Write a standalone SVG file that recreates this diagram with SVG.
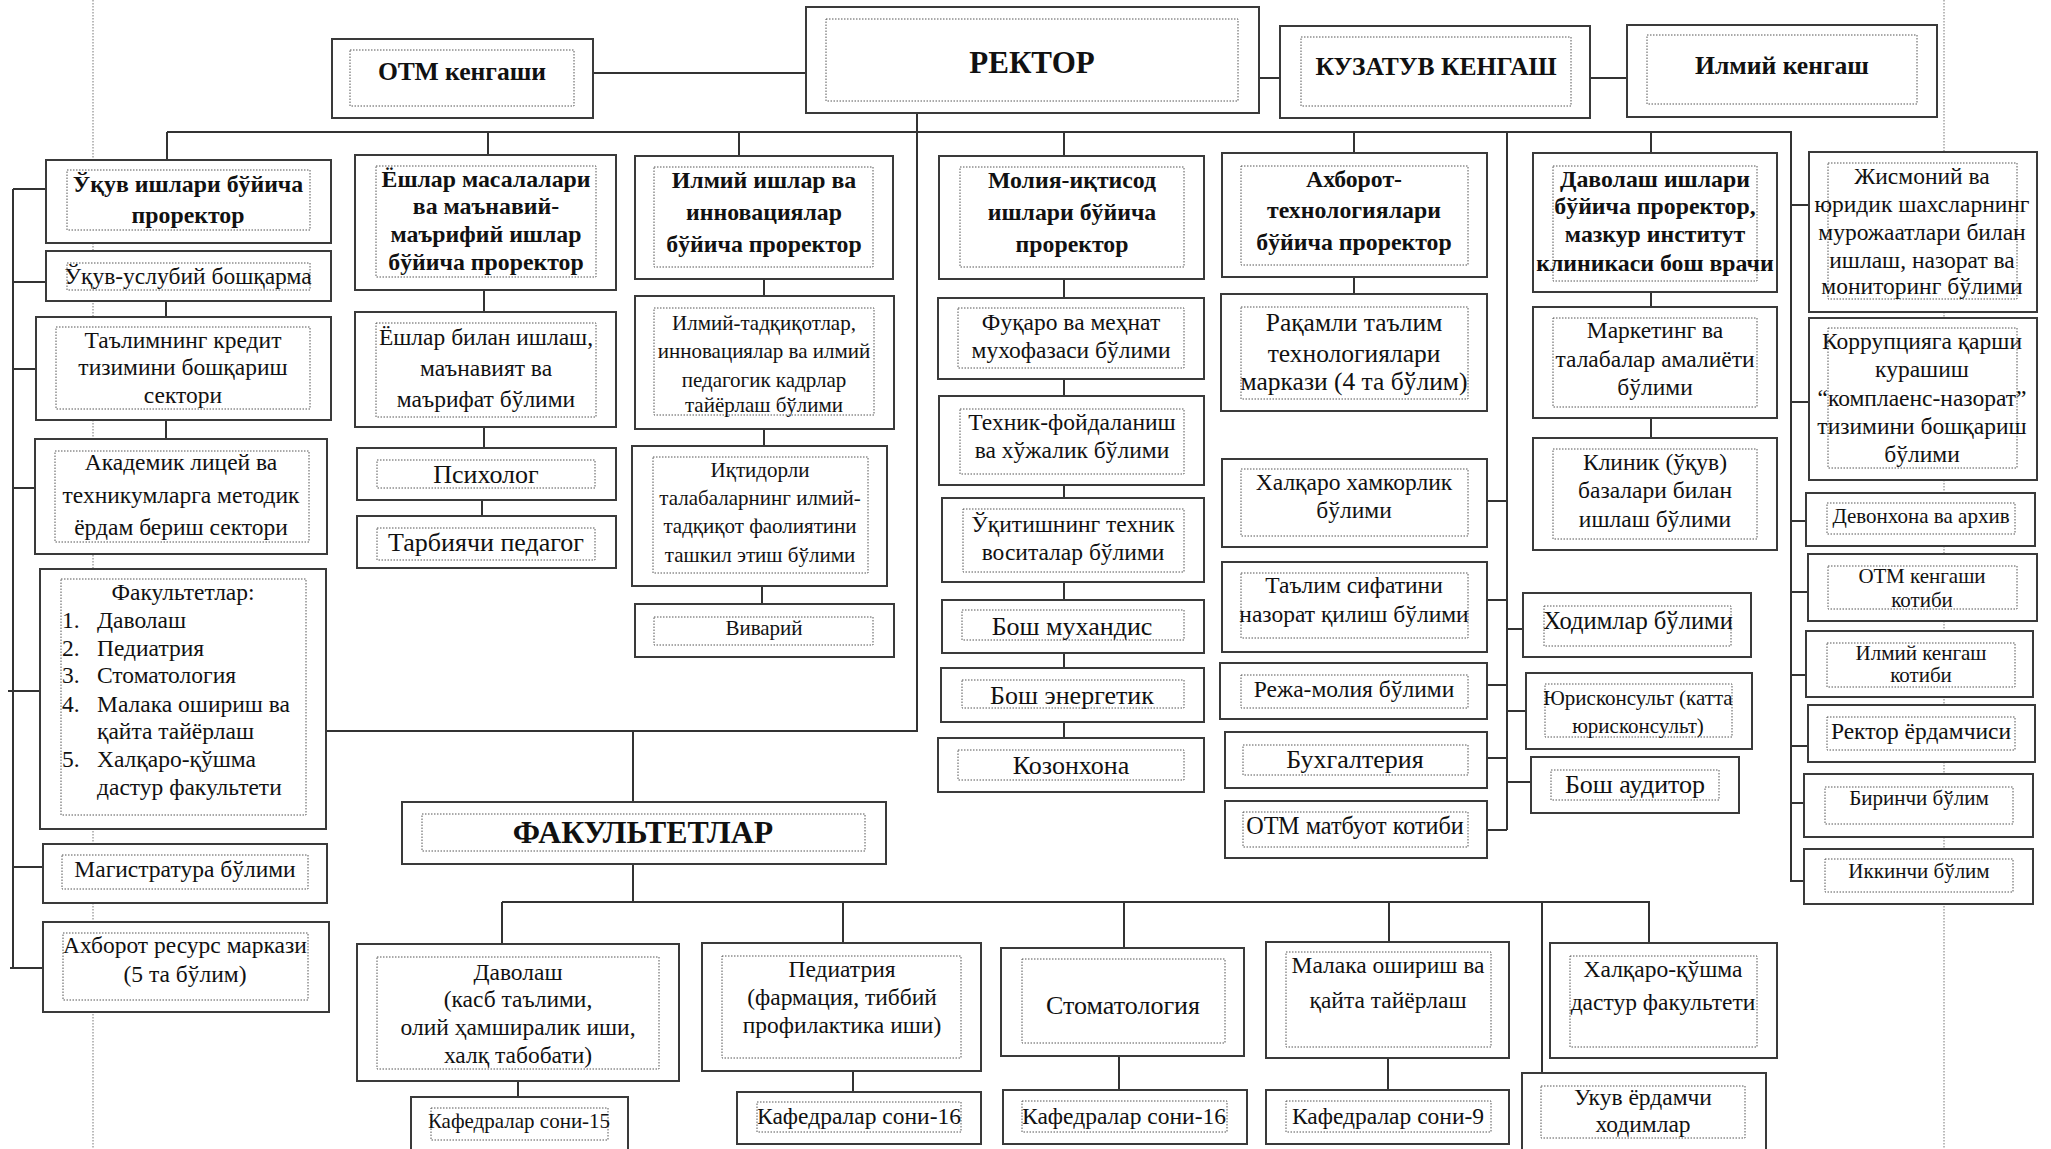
<svg xmlns="http://www.w3.org/2000/svg" width="2051" height="1149" viewBox="0 0 2051 1149">
<style>
.o{fill:#fff;stroke:#3a3a3a;stroke-width:2}
.i{fill:none;stroke:#555;stroke-width:1;stroke-dasharray:1.5 1.5}
.c{fill:none;stroke:#333;stroke-width:2}
.m{fill:none;stroke:#777;stroke-width:1;stroke-dasharray:1.5 1.5}
text{font-family:"Liberation Serif","Times New Roman",serif;fill:#111;text-anchor:middle;font-size:23.5px}
.b{font-weight:bold;font-size:23.8px}
.s{font-size:21px}
.L{font-size:26px}
.l{text-anchor:start}
</style>
<rect width="2051" height="1149" fill="#fff"/>
<g id="margins">
<path class="m" d="M93,0V1149M1944,0V1149"/>
</g>
<g id="connectors">
<path class="c" d="M593,73H806M1259,78H1280M1590,78H1627"/>
<path class="c" d="M167,132H1791V882M167,132V160M488,132V155M739,132V156M1064,132V156M1354,132V153M1651,132V153"/>
<path class="c" d="M917,113V731H326M633,731V802"/>
<path class="c" d="M1507,132V830M1487,501H1507M1487,600H1507M1487,685H1507M1487,758H1507M1487,830H1507M1507,629H1523M1507,711H1526M1507,782H1531"/>
<path class="c" d="M1791,205H1809M1791,402H1809M1791,521H1806M1791,592H1808M1791,675H1806M1791,746H1808M1791,803H1804M1791,881H1804"/>
<path class="c" d="M13,189V968M13,189H46M13,282H46M13,369H36M13,488H35M8,691H40M13,867H43M10,968H43"/>
<path class="c" d="M166,301V317M166,420V439M484,290V312M484,427V448M482,500V516M764,279V296M764,429V446M762,586V604"/>
<path class="c" d="M1064,279V298M1064,379V396M1064,485V498M1064,582V600M1064,653V668M1064,722V738M1354,277V294M1651,292V307M1651,418V438"/>
<path class="c" d="M633,864V902M502,902H1649V943M502,902V944M843,902V943M1124,902V948M1389,902V942M1542,902V1073"/>
<path class="c" d="M518,1081V1097M853,1071V1092M1119,1056V1090M1388,1058V1090"/>
</g>
<g id="otm-kengashi"><rect class="o" x="332" y="39" width="261" height="79"/><rect class="i" x="350" y="50" width="224" height="56"/><text class="b" x="462" y="80" style="font-size:25.6px">ОТМ кенгаши</text></g>
<g id="rektor"><rect class="o" x="806" y="7" width="453" height="106"/><rect class="i" x="826" y="19" width="412" height="82"/><text class="b" x="1032" y="73" style="font-size:31px">РЕКТОР</text></g>
<g id="kuzatuv"><rect class="o" x="1280" y="26" width="310" height="92"/><rect class="i" x="1301" y="37" width="270" height="69"/><text class="b" x="1436" y="75" style="font-size:25.6px">КУЗАТУВ КЕНГАШ</text></g>
<g id="ilmiy-kengash"><rect class="o" x="1627" y="25" width="310" height="92"/><rect class="i" x="1647" y="35" width="270" height="69"/><text class="b" x="1782" y="74" style="font-size:25.6px">Илмий кенгаш</text></g>

<g id="ukuv-prorektor"><rect class="o" x="46" y="160" width="285" height="83"/><rect class="i" x="67" y="170" width="243" height="60"/><text class="b"><tspan x="188" y="192">Ўқув ишлари бўйича</tspan><tspan x="188" y="223">проректор</tspan></text></g>
<g id="ukuv-uslubiy"><rect class="o" x="46" y="251" width="285" height="50"/><rect class="i" x="67" y="263" width="243" height="27"/><text x="188" y="284">Ўқув-услубий бошқарма</text></g>
<g id="talim-kredit"><rect class="o" x="36" y="317" width="295" height="103"/><rect class="i" x="56" y="327" width="254" height="82"/><text><tspan x="183" y="348">Таълимнинг кредит</tspan><tspan x="183" y="375">тизимини бошқариш</tspan><tspan x="183" y="403">сектори</tspan></text></g>
<g id="akademik"><rect class="o" x="35" y="439" width="292" height="115"/><rect class="i" x="55" y="451" width="254" height="91"/><text><tspan x="181" y="470">Академик лицей ва</tspan><tspan x="181" y="503">техникумларга методик</tspan><tspan x="181" y="535">ёрдам бериш сектори</tspan></text></g>
<g id="fakultetlar-list"><rect class="o" x="40" y="569" width="286" height="260"/><rect class="i" x="61" y="579" width="245" height="236"/><text x="183" y="600">Факультетлар:</text><text class="l"><tspan x="62" y="628">1.</tspan><tspan x="62" y="656">2.</tspan><tspan x="62" y="683">3.</tspan><tspan x="62" y="712">4.</tspan><tspan x="62" y="767">5.</tspan></text><text class="l"><tspan x="97" y="628">Даволаш</tspan><tspan x="97" y="656">Педиатрия</tspan><tspan x="97" y="683">Стоматология</tspan><tspan x="97" y="712">Малака ошириш ва</tspan><tspan x="97" y="739">қайта тайёрлаш</tspan><tspan x="97" y="767">Халқаро-қўшма</tspan><tspan x="97" y="795">дастур факультети</tspan></text></g>
<g id="magistratura"><rect class="o" x="43" y="844" width="284" height="59"/><rect class="i" x="62" y="855" width="246" height="34"/><text x="185" y="877">Магистратура бўлими</text></g>
<g id="axborot-resurs"><rect class="o" x="43" y="922" width="286" height="90"/><rect class="i" x="63" y="933" width="245" height="67"/><text><tspan x="185" y="953">Ахборот ресурс маркази</tspan><tspan x="185" y="982">(5 та бўлим)</tspan></text></g>

<g id="yoshlar-prorektor"><rect class="o" x="355" y="155" width="261" height="135"/><rect class="i" x="376" y="166" width="220" height="111"/><text class="b"><tspan x="486" y="187">Ёшлар масалалари</tspan><tspan x="486" y="214">ва маънавий-</tspan><tspan x="486" y="242">маърифий ишлар</tspan><tspan x="486" y="270">бўйича проректор</tspan></text></g>
<g id="yoshlar-bilan"><rect class="o" x="355" y="312" width="261" height="115"/><rect class="i" x="376" y="323" width="220" height="94"/><text><tspan x="486" y="345">Ёшлар билан ишлаш,</tspan><tspan x="486" y="376">маънавият ва</tspan><tspan x="486" y="407">маърифат бўлими</tspan></text></g>
<g id="psixolog"><rect class="o" x="357" y="448" width="259" height="52"/><rect class="i" x="377" y="460" width="218" height="28"/><text class="L" x="486" y="483">Психолог</text></g>
<g id="tarbiyachi"><rect class="o" x="357" y="516" width="259" height="52"/><rect class="i" x="377" y="528" width="218" height="32"/><text class="L" x="486" y="551">Тарбиячи педагог</text></g>

<g id="ilmiy-prorektor"><rect class="o" x="635" y="156" width="258" height="123"/><rect class="i" x="654" y="167" width="219" height="100"/><text class="b"><tspan x="764" y="188">Илмий ишлар ва</tspan><tspan x="764" y="220">инновациялар</tspan><tspan x="764" y="252">бўйича проректор</tspan></text></g>
<g id="ilmiy-tadqiqot"><rect class="o" x="635" y="296" width="259" height="133"/><rect class="i" x="654" y="308" width="220" height="107"/><text class="s"><tspan x="764" y="330">Илмий-тадқиқотлар,</tspan><tspan x="764" y="358">инновациялар ва илмий</tspan><tspan x="764" y="387">педагогик кадрлар</tspan><tspan x="764" y="412">тайёрлаш бўлими</tspan></text></g>
<g id="iqtidorli"><rect class="o" x="632" y="446" width="255" height="140"/><rect class="i" x="653" y="457" width="215" height="116"/><text class="s"><tspan x="760" y="477">Иқтидорли</tspan><tspan x="760" y="505">талабаларнинг илмий-</tspan><tspan x="760" y="533">тадқиқот фаолиятини</tspan><tspan x="760" y="562">ташкил этиш  бўлими</tspan></text></g>
<g id="vivariy"><rect class="o" x="635" y="604" width="259" height="53"/><rect class="i" x="654" y="617" width="219" height="28"/><text class="s" x="764" y="635">Виварий</text></g>

<g id="moliya-prorektor"><rect class="o" x="939" y="156" width="265" height="123"/><rect class="i" x="960" y="167" width="224" height="100"/><text class="b"><tspan x="1072" y="188">Молия-иқтисод</tspan><tspan x="1072" y="220">ишлари бўйича</tspan><tspan x="1072" y="252">проректор</tspan></text></g>
<g id="fuqaro"><rect class="o" x="938" y="298" width="266" height="81"/><rect class="i" x="958" y="308" width="226" height="60"/><text><tspan x="1071" y="330">Фуқаро ва меҳнат</tspan><tspan x="1071" y="358">мухофазаси бўлими</tspan></text></g>
<g id="texnik"><rect class="o" x="939" y="396" width="265" height="89"/><rect class="i" x="960" y="409" width="224" height="65"/><text><tspan x="1072" y="430">Техник-фойдаланиш</tspan><tspan x="1072" y="458">ва хўжалик бўлими</tspan></text></g>
<g id="ukitish"><rect class="o" x="942" y="498" width="262" height="84"/><rect class="i" x="963" y="509" width="221" height="63"/><text><tspan x="1073" y="532">Ўқитишнинг техник</tspan><tspan x="1073" y="560">воситалар бўлими</tspan></text></g>
<g id="bosh-muhandis"><rect class="o" x="942" y="600" width="262" height="53"/><rect class="i" x="962" y="610" width="222" height="30"/><text class="L" x="1072" y="635">Бош мухандис</text></g>
<g id="bosh-energetik"><rect class="o" x="941" y="668" width="263" height="54"/><rect class="i" x="962" y="680" width="222" height="28"/><text class="L" x="1072" y="704">Бош энергетик</text></g>
<g id="kozonxona"><rect class="o" x="938" y="738" width="266" height="54"/><rect class="i" x="958" y="750" width="226" height="30"/><text class="L" x="1071" y="774">Козонхона</text></g>

<g id="axborot-prorektor"><rect class="o" x="1222" y="153" width="265" height="124"/><rect class="i" x="1241" y="166" width="227" height="99"/><text class="b"><tspan x="1354" y="187">Ахборот-</tspan><tspan x="1354" y="218">технологиялари</tspan><tspan x="1354" y="250">бўйича проректор</tspan></text></g>
<g id="raqamli"><rect class="o" x="1221" y="294" width="266" height="117"/><rect class="i" x="1241" y="307" width="227" height="92"/><text style="font-size:25.5px"><tspan x="1354" y="331">Рақамли таълим</tspan><tspan x="1354" y="362">технологиялари</tspan><tspan x="1354" y="390">маркази (4 та бўлим)</tspan></text></g>
<g id="xalqaro-hamkorlik"><rect class="o" x="1222" y="459" width="265" height="88"/><rect class="i" x="1241" y="469" width="227" height="67"/><text><tspan x="1354" y="490">Халқаро хамкорлик</tspan><tspan x="1354" y="518">бўлими</tspan></text></g>
<g id="talim-sifati"><rect class="o" x="1222" y="562" width="265" height="90"/><rect class="i" x="1241" y="573" width="227" height="65"/><text><tspan x="1354" y="593">Таълим сифатини</tspan><tspan x="1354" y="622">назорат қилиш бўлими</tspan></text></g>
<g id="reja-moliya"><rect class="o" x="1220" y="663" width="267" height="56"/><rect class="i" x="1241" y="675" width="227" height="33"/><text x="1354" y="697">Режа-молия бўлими</text></g>
<g id="buxgalteriya"><rect class="o" x="1225" y="732" width="262" height="56"/><rect class="i" x="1243" y="745" width="225" height="30"/><text class="L" x="1355" y="768">Бухгалтерия</text></g>
<g id="otm-matbuot"><rect class="o" x="1225" y="801" width="262" height="57"/><rect class="i" x="1243" y="812" width="225" height="35"/><text style="font-size:24.2px" x="1355" y="834">ОТМ матбуот котиби</text></g>

<g id="davolash-prorektor"><rect class="o" x="1533" y="153" width="244" height="139"/><rect class="i" x="1553" y="166" width="204" height="115"/><text class="b"><tspan x="1655" y="187">Даволаш ишлари</tspan><tspan x="1655" y="214">бўйича проректор,</tspan><tspan x="1655" y="242">мазкур институт</tspan><tspan x="1655" y="271">клиникаси бош врачи</tspan></text></g>
<g id="marketing"><rect class="o" x="1533" y="307" width="244" height="111"/><rect class="i" x="1553" y="318" width="204" height="89"/><text><tspan x="1655" y="338">Маркетинг ва</tspan><tspan x="1655" y="367">талабалар амалиёти</tspan><tspan x="1655" y="395">бўлими</tspan></text></g>
<g id="klinik"><rect class="o" x="1533" y="438" width="244" height="112"/><rect class="i" x="1553" y="449" width="204" height="90"/><text><tspan x="1655" y="470">Клиник (ўқув)</tspan><tspan x="1655" y="498">базалари билан</tspan><tspan x="1655" y="527">ишлаш бўлими</tspan></text></g>
<g id="xodimlar"><rect class="o" x="1523" y="593" width="228" height="64"/><rect class="i" x="1544" y="606" width="187" height="40"/><text style="font-size:24.6px" x="1638" y="629">Ходимлар бўлими</text></g>
<g id="yuriskonsult"><rect class="o" x="1526" y="673" width="226" height="76"/><rect class="i" x="1545" y="684" width="187" height="53"/><text class="s"><tspan x="1638" y="705">Юрисконсульт (катта</tspan><tspan x="1638" y="733">юрисконсульт)</tspan></text></g>
<g id="bosh-auditor"><rect class="o" x="1531" y="757" width="208" height="56"/><rect class="i" x="1551" y="770" width="168" height="30"/><text class="L" x="1635" y="793">Бош аудитор</text></g>

<g id="jismoniy"><rect class="o" x="1809" y="152" width="228" height="160"/><rect class="i" x="1828" y="163" width="189" height="136"/><text><tspan x="1922" y="184">Жисмоний ва</tspan><tspan x="1922" y="212">юридик шахсларнинг</tspan><tspan x="1922" y="240">мурожаатлари билан</tspan><tspan x="1922" y="268">ишлаш, назорат ва</tspan><tspan x="1922" y="294">мониторинг бўлими</tspan></text></g>
<g id="korrupsiya"><rect class="o" x="1809" y="318" width="228" height="162"/><rect class="i" x="1828" y="328" width="189" height="140"/><text><tspan x="1922" y="349">Коррупцияга қарши</tspan><tspan x="1922" y="377">курашиш</tspan><tspan x="1922" y="406">“комплаенс-назорат”</tspan><tspan x="1922" y="434">тизимини бошқариш</tspan><tspan x="1922" y="462">бўлими</tspan></text></g>
<g id="devonxona"><rect class="o" x="1806" y="493" width="229" height="53"/><rect class="i" x="1827" y="503" width="188" height="31"/><text class="s" x="1921" y="523">Девонхона ва архив</text></g>
<g id="otm-kotib"><rect class="o" x="1808" y="554" width="229" height="67"/><rect class="i" x="1828" y="566" width="189" height="43"/><text class="s"><tspan x="1922" y="583">ОТМ кенгаши</tspan><tspan x="1922" y="607">котиби</tspan></text></g>
<g id="ilmiy-kotib"><rect class="o" x="1806" y="631" width="227" height="66"/><rect class="i" x="1827" y="643" width="188" height="44"/><text class="s"><tspan x="1921" y="660">Илмий кенгаш</tspan><tspan x="1921" y="682">котиби</tspan></text></g>
<g id="rektor-yordamchisi"><rect class="o" x="1808" y="705" width="227" height="57"/><rect class="i" x="1827" y="717" width="188" height="33"/><text x="1921" y="739">Ректор ёрдамчиси</text></g>
<g id="birinchi"><rect class="o" x="1804" y="774" width="229" height="63"/><rect class="i" x="1825" y="787" width="188" height="37"/><text class="s" x="1919" y="805">Биринчи бўлим</text></g>
<g id="ikkinchi"><rect class="o" x="1804" y="849" width="229" height="55"/><rect class="i" x="1825" y="859" width="188" height="33"/><text class="s" x="1919" y="878">Иккинчи бўлим</text></g>

<g id="fakultetlar"><rect class="o" x="402" y="802" width="484" height="62"/><rect class="i" x="422" y="814" width="443" height="37"/><text class="b" x="643" y="843" style="font-size:31.8px">ФАКУЛЬТЕТЛАР</text></g>
<g id="davolash-f"><rect class="o" x="357" y="944" width="322" height="137"/><rect class="i" x="377" y="957" width="282" height="112"/><text><tspan x="518" y="980">Даволаш</tspan><tspan x="518" y="1007">(касб таълими,</tspan><tspan x="518" y="1035">олий ҳамширалик иши,</tspan><tspan x="518" y="1063">халқ табобати)</tspan></text></g>
<g id="kafedra-15"><rect class="o" x="411" y="1097" width="217" height="70"/><rect class="i" x="431" y="1108" width="177" height="32"/><text class="s" x="519" y="1128">Кафедралар сони-15</text></g>
<g id="pediatriya"><rect class="o" x="702" y="943" width="279" height="128"/><rect class="i" x="722" y="956" width="239" height="102"/><text><tspan x="842" y="977">Педиатрия</tspan><tspan x="842" y="1005">(фармация, тиббий</tspan><tspan x="842" y="1033">профилактика иши)</tspan></text></g>
<g id="kafedra-16a"><rect class="o" x="737" y="1092" width="244" height="52"/><rect class="i" x="757" y="1102" width="204" height="30"/><text x="859" y="1124">Кафедралар сони-16</text></g>
<g id="stomatologiya"><rect class="o" x="1001" y="948" width="243" height="108"/><rect class="i" x="1022" y="959" width="203" height="84"/><text class="L" x="1123" y="1014">Стоматология</text></g>
<g id="kafedra-16b"><rect class="o" x="1003" y="1090" width="244" height="54"/><rect class="i" x="1022" y="1101" width="205" height="31"/><text x="1124" y="1124">Кафедралар сони-16</text></g>
<g id="malaka"><rect class="o" x="1266" y="942" width="243" height="116"/><rect class="i" x="1286" y="952" width="205" height="95"/><text><tspan x="1388" y="973">Малака ошириш ва</tspan><tspan x="1388" y="1008">қайта тайёрлаш</tspan></text></g>
<g id="kafedra-9"><rect class="o" x="1266" y="1090" width="243" height="54"/><rect class="i" x="1286" y="1101" width="205" height="31"/><text x="1388" y="1124">Кафедралар сони-9</text></g>
<g id="xalqaro-qushma"><rect class="o" x="1550" y="943" width="227" height="115"/><rect class="i" x="1570" y="956" width="187" height="91"/><text><tspan x="1663" y="977">Халқаро-қўшма</tspan><tspan x="1663" y="1010">дастур факультети</tspan></text></g>
<g id="ukuv-yordamchi"><rect class="o" x="1522" y="1073" width="244" height="90"/><rect class="i" x="1541" y="1086" width="204" height="52"/><text><tspan x="1643" y="1105">Укув ёрдамчи</tspan><tspan x="1643" y="1132">ходимлар</tspan></text></g>
</svg>
